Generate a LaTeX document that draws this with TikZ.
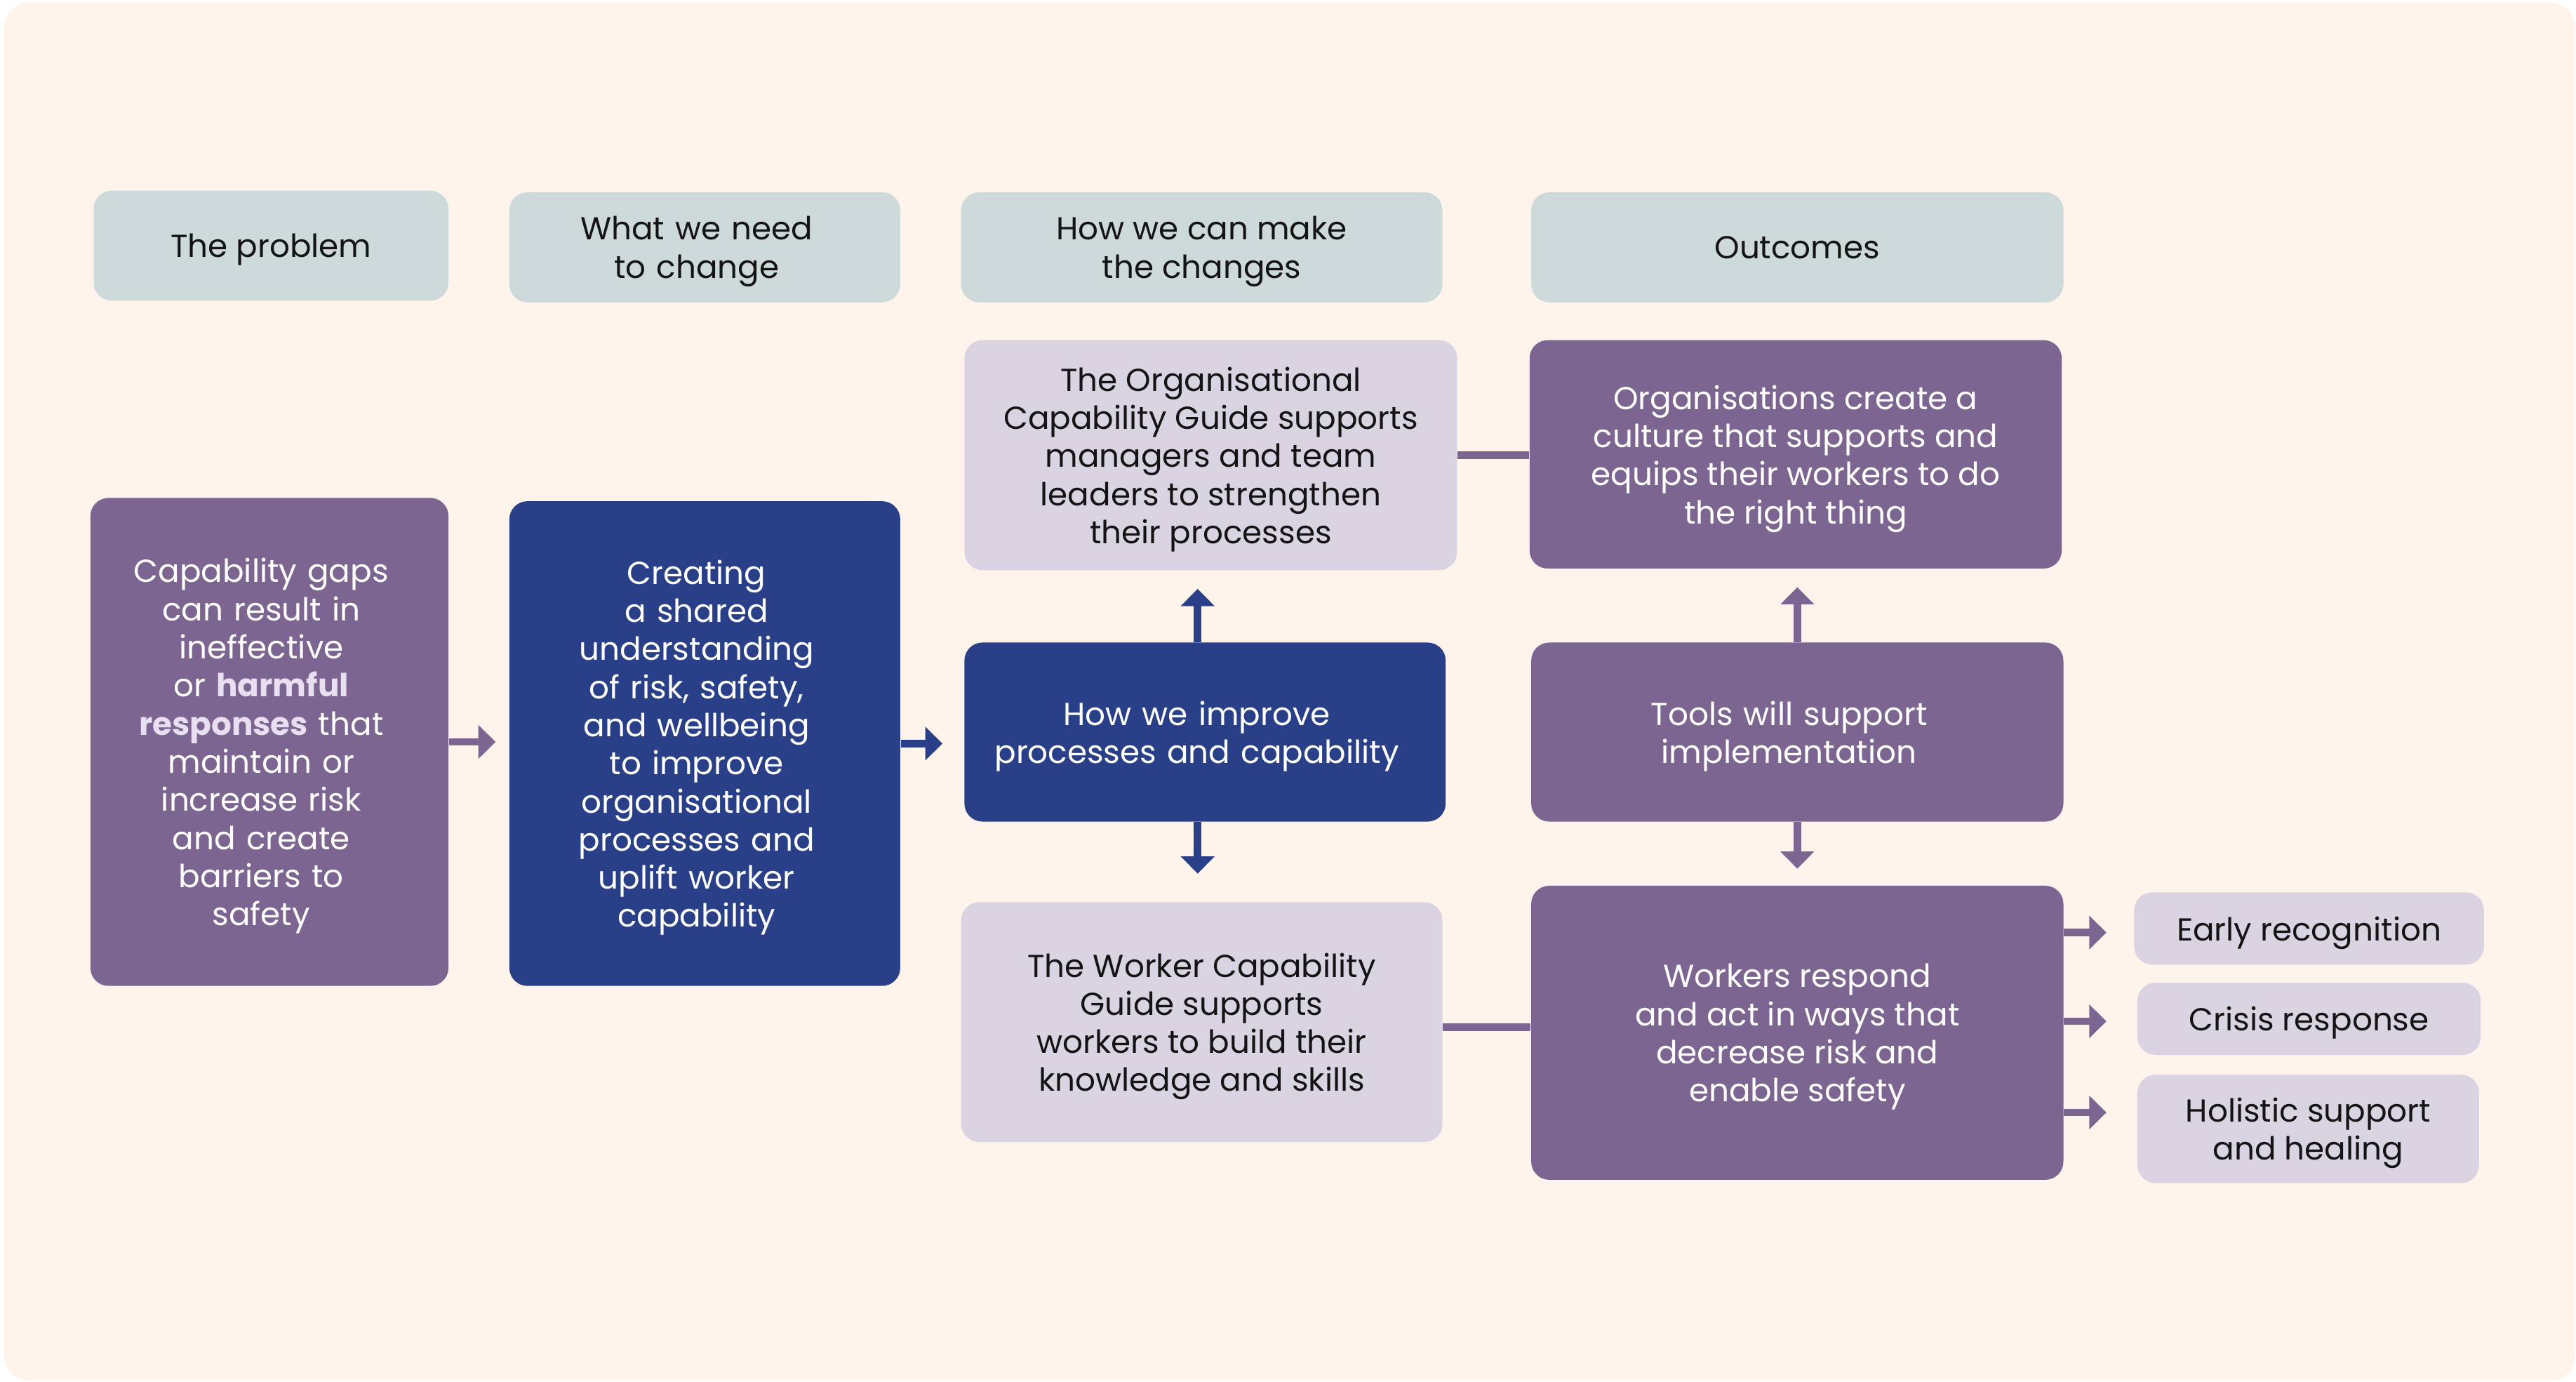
\documentclass[tikz,border=0pt]{standalone}
\usepackage{fontspec}
\setmainfont{Poppins}
\usetikzlibrary{arrows.meta,calc}

\definecolor{bgcream}{RGB}{254,244,235}
\definecolor{headgrey}{RGB}{206,218,218}
\definecolor{lavender}{RGB}{218,212,226}
\definecolor{plum}{RGB}{125,101,146}
\definecolor{navyblue}{RGB}{41,63,136}
\definecolor{softlilac}{RGB}{232,224,240}
\definecolor{textdark}{RGB}{20,20,20}

\tikzset{
	box/.style={rounded corners=0.22cm, align=center, inner sep=0pt, text depth=0pt, font=\fontsize{11}{13.2}\selectfont},
	headbox/.style={box, fill=headgrey, text=textdark},
	lightbox/.style={box, fill=lavender, text=textdark},
	purplebox/.style={box, fill=plum, text=white},
	navybox/.style={box, fill=navyblue, text=white},
	nudge/.style={text width=#1, text depth=, execute at begin node={\advance\rightskip by 0.2cm}, execute at end node={\par\vskip-\prevdepth\vskip-0.1cm}},
	flowarrow/.style={line width=0.09cm, -{Triangle[length=0.21cm,width=0.40cm]}},
	purplearrow/.style={flowarrow, draw=plum},
	navyarrow/.style={flowarrow, draw=navyblue},
	purpleline/.style={line width=0.09cm, draw=plum}
}

\begin{document}
\begin{tikzpicture}[x=0.02cm, y=-0.02cm]
		\useasboundingbox (0,0) rectangle (1568,841);
		\fill[bgcream, rounded corners=0.3cm] (2.6,1.7) rectangle (1567.6,840.2);

		% column headings
		\node[headbox, minimum width=4.32cm, minimum height=1.34cm] (hproblem) at (165,149.5) {The problem};
		\node[headbox, nudge=4cm, minimum width=4.76cm, minimum height=1.34cm] (hneed) at (429,150.5) {What we need\\to change};
		\node[headbox, minimum width=5.86cm, minimum height=1.34cm] (hhow) at (731.5,150.5) {How we can make\\the changes};
		\node[headbox, minimum width=6.48cm, minimum height=1.34cm] (houtcomes) at (1094,150.5) {Outcomes};

		% problem and need
		\node[purplebox, nudge=4cm, minimum width=4.36cm, minimum height=5.94cm] (problem) at (164,451.5) {Capability gaps\\can result in\\ineffective\\or {\bfseries\color{softlilac}harmful}\\{\bfseries\color{softlilac}responses} that\\maintain or\\increase risk\\and create\\barriers to\\safety};
		\node[navybox, nudge=4cm, minimum width=4.76cm, minimum height=5.90cm] (need) at (429,452.5) {Creating\\a shared\\understanding\\of risk, safety,\\and wellbeing\\to improve\\organisational\\processes and\\uplift worker\\capability};

		% how we make the changes
		\node[lightbox, minimum width=6.00cm, minimum height=2.80cm] (orgguide) at (737,277) {The Organisational\\Capability Guide supports\\managers and team\\leaders to strengthen\\their processes};
		\node[navybox, nudge=5.4cm, minimum width=5.86cm, minimum height=2.18cm] (improve) at (733.5,445.5) {How we improve\\processes and capability};
		\node[lightbox, minimum width=5.86cm, minimum height=2.92cm] (workguide) at (731.5,622) {The Worker Capability\\Guide supports\\workers to build their\\knowledge and skills};

		% outcomes
		\node[purplebox, minimum width=6.48cm, minimum height=2.78cm] (orgout) at (1093,276.5) {Organisations create a\\culture that supports and\\equips their workers to do\\the right thing};
		\node[purplebox, nudge=5cm, minimum width=6.48cm, minimum height=2.18cm] (tools) at (1094,445.5) {Tools will support\\implementation};
		\node[purplebox, minimum width=6.48cm, minimum height=3.58cm] (workers) at (1094,628.5) {Workers respond\\and act in ways that\\decrease risk and\\enable safety};

		\node[lightbox, minimum width=4.26cm, minimum height=0.88cm] (early) at (1405.5,565) {Early recognition};
		\node[lightbox, minimum width=4.18cm, minimum height=0.88cm] (crisis) at (1405.5,620) {Crisis response};
		\node[lightbox, minimum width=4.16cm, minimum height=1.32cm] (holistic) at (1405,687) {Holistic support\\and healing};

		% arrows
		\draw[purplearrow, shorten >=0.16cm] (problem.east) -- (problem.east -| need.west);
		\draw[navyarrow, shorten >=0.26cm] (need.east) -- (need.east -| improve.west);
		\draw[navyarrow] ($(improve.north)+(-4.5,0)$) -- ($(improve.north |- orgguide.south)+(-4.5,11)$);
		\draw[navyarrow] ($(improve.south)+(-4.5,0)$) -- ($(improve.south |- workguide.north)+(-4.5,-17)$);
		\draw[purplearrow, shorten >=0.22cm] (tools.north) -- (tools.north |- orgout.south);
		\draw[purplearrow, shorten >=0.20cm] (tools.south) -- (tools.south |- workers.north);
		\draw[purpleline] (orgguide.east) -- (orgguide.east -| orgout.west);
		\draw[purpleline] ($(workguide.east)+(0,3)$) -- ($(workguide.east -| workers.west)+(0,3)$);
		\draw[purplearrow, shorten >=0.33cm] ($(workers.east |- early.west)+(0,2.5)$) -- ($(early.west)+(0,2.5)$);
		\draw[purplearrow, shorten >=0.37cm] ($(workers.east |- crisis.west)+(0,1.5)$) -- ($(crisis.west)+(0,1.5)$);
		\draw[purplearrow, shorten >=0.37cm] ($(workers.east |- holistic.west)+(0,-10)$) -- ($(holistic.west)+(0,-10)$);
\end{tikzpicture}
\end{document}
